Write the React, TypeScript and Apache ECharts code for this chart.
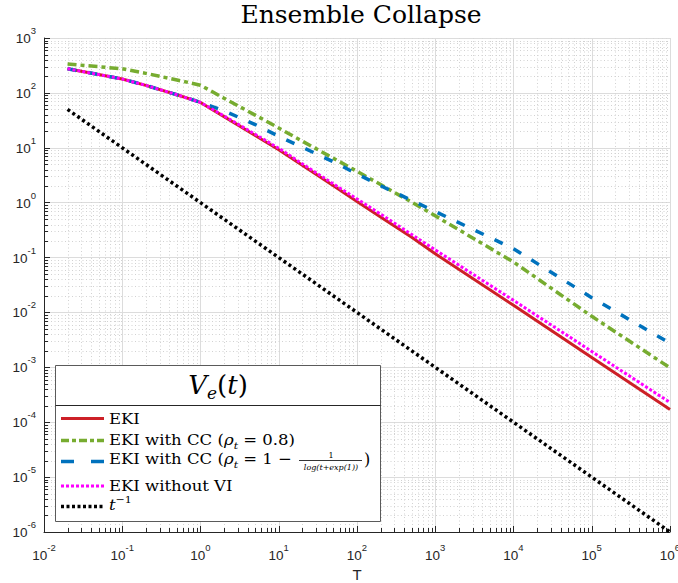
import React, { useEffect, useRef } from "react";
import * as echarts from "echarts";

// ---- data ----
const T = [0.02, 0.05, 0.1, 0.2, 0.5, 1, 2, 5, 10, 20, 50, 100, 200, 500, 1e3, 1e4, 1e5, 1e6];
const EKI = [275, 216, 179, 137, 92.5, 67, 37, 16.8, 9.2, 4.8, 2.03, 1.05, 0.55, 0.234, 0.117, 0.0135, 1.51e-3, 1.7e-4];
const EKI_CC08 = [336, 300, 275, 227, 172, 138, 80, 39.4, 22.9, 13.2, 6.43, 3.72, 2.14, 1.02, 0.575, 0.083, 8.5e-3, 9.8e-4];
const EKI_CCLOG = [275, 216, 179, 137, 92.5, 67, 47.1, 26.5, 16.2, 10.2, 5.56, 3.33, 2.04, 1.1, 0.69, 0.145, 0.0186, 2.75e-3];
const EKI_NOVI = [275, 216, 179, 137, 92.5, 67, 38, 17.6, 9.8, 5.1, 2.19, 1.17, 0.62, 0.263, 0.138, 0.0166, 1.95e-3, 2.29e-4];
const T_REF = [0.02, 1, 1e6];
const T_INV = [50, 1, 1e-6];

const X_MIN = 1e-2, X_MAX = 1e6;
const Y_MIN = 1e-6, Y_MAX = 1e3;
const X_DECADES = [-2, -1, 0, 1, 2, 3, 4, 5];
const Y_DECADES = [-6, -5, -4, -3, -2, -1, 0, 1, 2];
const MINOR_DIGITS = [2, 3, 4, 5, 6, 7, 8, 9];

const C_RED = "#CD2027";
const C_GREEN = "#77AC30";
const C_BLUE = "#0072BD";
const C_MAG = "#FF00FF";
const C_BLACK = "#000000";
const AX = "#262626";

const minorX: number[][] = [];
X_DECADES.forEach((k) => MINOR_DIGITS.forEach((d) => minorX.push([d * Math.pow(10, k), Y_MIN])));
const minorY: number[][] = [];
Y_DECADES.forEach((k) => MINOR_DIGITS.forEach((d) => minorY.push([X_MIN, d * Math.pow(10, k)])));

const zip = (xs: number[], ys: number[]) => xs.map((x, i) => [x, ys[i]]);

const pow10Label = (v: number) => {
  const e = Math.round(Math.log10(v));
  return `{b|10}{s|${e}}`;
};
const labelRich = {
  b: { fontSize: 13.5, fontFamily: "Liberation Sans", color: AX, verticalAlign: "bottom", lineHeight: 15 },
  s: { fontSize: 9.5, fontFamily: "Liberation Sans", color: AX, verticalAlign: "bottom", lineHeight: 10, padding: [0, 0, 10, 0] },
};

const serif = "DejaVu Serif";

export default function App() {
  const ref = useRef<HTMLDivElement>(null);
  useEffect(() => {
    if (!ref.current) return;
    const chart = echarts.init(ref.current, undefined, { renderer: "svg" });
    const lineSeries = (name: string, data: number[], color: string, width: number, dash: any, xs = T) => ({
      name,
      type: "line",
      data: zip(xs, data),
      showSymbol: false,
      symbol: "none",
      z: 5,
      lineStyle: { color, width, type: dash, cap: "butt", join: "round" },
    });
    const MINOR_C = "#d2d2d2";
    const minorRender = (vertical: boolean) => (params: any, api: any) => {
      if (vertical) {
        const x = api.value(0);
        const b = api.coord([x, Y_MIN]);
        const t = api.coord([x, Y_MAX]);
        const px = Math.round(b[0]) + 0.5;
        return {
          type: "group",
          children: [
            { type: "line", shape: { x1: px, y1: b[1], x2: px, y2: t[1] }, style: { stroke: MINOR_C, lineWidth: 1, lineDash: [1, 2.5] } },
            { type: "line", shape: { x1: px, y1: b[1], x2: px, y2: b[1] - 4 }, style: { stroke: AX, lineWidth: 1 } },
          ],
        };
      }
      const y = api.value(1);
      const l = api.coord([X_MIN, y]);
      const r = api.coord([X_MAX, y]);
      const py = Math.round(l[1]) + 0.5;
      return {
        type: "group",
        children: [
          { type: "line", shape: { x1: l[0], y1: py, x2: r[0], y2: py }, style: { stroke: MINOR_C, lineWidth: 1, lineDash: [1, 2.5] } },
          { type: "line", shape: { x1: l[0], y1: py, x2: l[0] + 4, y2: py }, style: { stroke: AX, lineWidth: 1 } },
        ],
      };
    };

    const mathRich = {
      n: { fontFamily: serif, fontSize: 15, color: "#000" },
      i: { fontFamily: serif, fontStyle: "italic", fontSize: 15, color: "#000" },
      sub: { fontFamily: serif, fontStyle: "italic", fontSize: 10, color: "#000", verticalAlign: "top", lineHeight: 12, padding: [8, 0, 0, 0] },
      sup: { fontFamily: serif, fontSize: 10, color: "#000", verticalAlign: "bottom", lineHeight: 12, padding: [0, 0, 8, 0] },
    };
    const SX = 1.1;
    const txt = (x: number, y: number, text: string, extra: any = {}) => ({
      type: "text",
      x,
      y,
      scaleX: SX,
      z: 102,
      style: {
        text,
        rich: mathRich,
        fontFamily: serif,
        fontSize: 15,
        fill: "#000",
        align: "left",
        textAlign: "left",
        verticalAlign: "middle",
        textVerticalAlign: "middle",
        ...extra,
      },
    });
    const sample = (y: number, color: string, width: number, dash: number[] | null) => ({
      type: "line",
      z: 102,
      shape: { x1: 61, y1: y, x2: 104, y2: y },
      style: { stroke: color, lineWidth: width, lineDash: dash, lineCap: "butt" },
    });

    chart.setOption({
      animation: false,
      title: {
        text: "Ensemble Collapse",
        left: 356,
        top: -3,
        textAlign: "center",
        textStyle: { fontFamily: serif, fontSize: 25, fontWeight: "normal", color: "#000" },
      },
      grid: { left: 44, right: 8, top: 38, bottom: 51, containLabel: false, outerBoundsMode: "none" },
      xAxis: {
        type: "log",
        logBase: 10,
        min: X_MIN,
        max: X_MAX,
        splitNumber: 8,
        name: "T",
        nameLocation: "middle",
        nameGap: 34,
        nameTextStyle: { fontFamily: "Liberation Sans", fontSize: 15, lineHeight: 15, color: AX },
        axisLine: { show: true, lineStyle: { color: AX, width: 1 } },
        axisTick: { show: true, inside: true, length: 6, lineStyle: { color: AX } },
        axisLabel: { formatter: pow10Label, rich: labelRich, margin: 15 },
        splitLine: { show: true, lineStyle: { color: "#dcdcdc", width: 1 } },
      },
      yAxis: {
        type: "log",
        logBase: 10,
        min: Y_MIN,
        max: Y_MAX,
        splitNumber: 9,
        axisLine: { show: true, lineStyle: { color: AX, width: 1 } },
        axisTick: { show: true, inside: true, length: 6, lineStyle: { color: AX } },
        axisLabel: { formatter: pow10Label, rich: labelRich, margin: 8 },
        splitLine: { show: true, lineStyle: { color: "#dcdcdc", width: 1 } },
      },
      series: [
        { type: "custom", name: "minorX", data: minorX, renderItem: minorRender(true), silent: true, z: 1, encode: { x: 0, y: 1 }, clip: false },
        { type: "custom", name: "minorY", data: minorY, renderItem: minorRender(false), silent: true, z: 1, encode: { x: 0, y: 1 }, clip: false },
        lineSeries("EKI", EKI, C_RED, 3, "solid"),
        lineSeries("EKI with CC (ρt = 0.8)", EKI_CC08, C_GREEN, 3.5, [9, 4, 4, 4]),
        lineSeries("EKI with CC (ρt = 1 − 1/log(t+exp(1)))", EKI_CCLOG, C_BLUE, 3.5, [9, 12]),
        lineSeries("EKI without VI", EKI_NOVI, C_MAG, 3, [3, 2]),
        lineSeries("t^-1", T_INV, C_BLACK, 3.5, [3, 3], T_REF),
      ],
      graphic: [
        { type: "rect", z: 100, shape: { x: 55.5, y: 365.5, width: 325, height: 156 }, style: { fill: "#fff", stroke: "#5a5a5a", lineWidth: 1 } },
        { type: "line", z: 101, shape: { x1: 55.5, y1: 405.5, x2: 380.5, y2: 405.5 }, style: { stroke: AX, lineWidth: 1 } },
        {
          type: "text",
          x: 218,
          y: 385,
          z: 102,
          style: {
            text: "{i|V}{sub|e}{n|(}{i|t}{n|)}",
            align: "center",
            textAlign: "center",
            verticalAlign: "middle",
            textVerticalAlign: "middle",
            rich: {
              n: { fontFamily: serif, fontSize: 26, color: "#000" },
              i: { fontFamily: serif, fontStyle: "italic", fontSize: 26, color: "#000" },
              sub: { fontFamily: serif, fontStyle: "italic", fontSize: 17, color: "#000", verticalAlign: "top", lineHeight: 20, padding: [12, 0, 0, 0] },
            },
          },
        },
        sample(418.5, C_RED, 3, null),
        sample(440.5, C_GREEN, 3.5, [8, 3, 4, 3]),
        sample(461.5, C_BLUE, 3.5, [13, 17]),
        sample(486, C_MAG, 3, [3, 2]),
        sample(506.5, C_BLACK, 3.5, [3, 2.5]),
        txt(109, 418.5, "EKI"),
        txt(109, 440, "{n|EKI with CC (}{i|ρ}{sub|t}{n| = 0.8)}"),
        txt(109, 459, "{n|EKI with CC (}{i|ρ}{sub|t}{n| = 1 − }"),
        { type: "text", x: 331, y: 455, z: 102, style: { text: "1", fontFamily: serif, fontSize: 8, fill: "#000", align: "center", textAlign: "center", verticalAlign: "middle", textVerticalAlign: "middle" } },
        { type: "line", z: 102, shape: { x1: 299, y1: 460.5, x2: 362, y2: 460.5 }, style: { stroke: "#000", lineWidth: 0.8 } },
        { type: "text", x: 331, y: 467, z: 102, style: { text: "log(t+exp(1))", fontFamily: serif, fontStyle: "italic", fontSize: 8, fill: "#000", align: "center", textAlign: "center", verticalAlign: "middle", textVerticalAlign: "middle" } },
        { type: "text", x: 364, y: 459, z: 102, style: { text: ")", fontFamily: serif, fontSize: 16, fill: "#000", align: "left", textAlign: "left", verticalAlign: "middle", textVerticalAlign: "middle" } },
        txt(109, 486, "EKI without VI"),
        txt(109, 505, "{i|t}{sup|−1}"),
      ],
    });
    return () => chart.dispose();
  }, []);
  return <div ref={ref} style={{ position: "absolute", left: 0, top: 0, width: 678, height: 583 }} />;
}
